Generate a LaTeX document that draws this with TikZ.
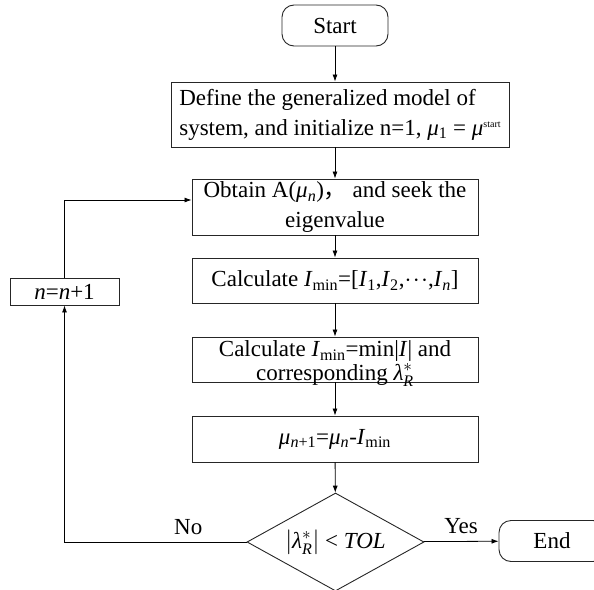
\documentclass[tikz,border=0pt]{standalone}
\usepackage{fontspec}
\setmainfont{Liberation Serif}
\newfontfamily\cjk{Noto Sans CJK SC}
\usetikzlibrary{shapes.geometric,arrows.meta}

\newcommand{\iv}[1]{\textit{#1}}

\begin{document}
\begin{tikzpicture}[x=1pt, y=-1pt, >={Latex[length=7pt,width=5pt]},
        font=\fontsize{23}{30}\selectfont,
        term/.style={draw=black!85, line width=0.9pt, rounded corners=12pt, minimum width=106, minimum height=41},
        proc/.style={draw=black!85, line width=0.9pt, align=center, inner sep=0pt},
        test/.style={draw=black!85, line width=0.9pt, diamond, aspect=1.8, inner sep=0pt},
        flow/.style={->, line width=0.8pt}]
        \useasboundingbox (0,0) rectangle (594,589);

        % Terminals
        \node[term] (start) at (335, 25.5) {Start};
        \node[term] (end) at (552, 541) {End};

        % Steps
        \node[proc, align=left, minimum width=338, minimum height=65] (define) at (340, 114.5)
            {Define the generalized model of\\system, and initialize n=1, \iv{μ}\textsubscript{1} = \iv{μ}{\fontsize{10}{10}\selectfont\raisebox{8pt}{start}}};
        \node[proc, minimum width=286, minimum height=56] (obtain) at (335, 207)
            {Obtain A(\iv{μ}\textsubscript{\iv{n}}){\cjk ，} and seek the\\eigenvalue};
        \node[proc, minimum width=286, minimum height=45] (calc1) at (335, 280.5)
            {Calculate \iv{I}\textsubscript{min}=[\iv{I}\textsubscript{1},\iv{I}\textsubscript{2},$\cdot\mkern-3mu\cdot\mkern-3mu\cdot$,\iv{I}\textsubscript{\iv{n}}]};
        \node[proc, minimum width=286, minimum height=45, inner ysep=-4pt, font=\fontsize{23}{24}\selectfont] (calc2) at (335, 359.5)
            {\rule{0pt}{23pt}Calculate \iv{I}\textsubscript{min}=min|\iv{I}| and\\corresponding \smash{\iv{λ}$^{*}_{\mathit{R}}$}};
        \node[proc, minimum width=286, minimum height=46] (update) at (335, 439)
            {\iv{μ}\textsubscript{\iv{n}+1}=\iv{μ}\textsubscript{\iv{n}}-\iv{I}\textsubscript{min}};

        % Decision
        \node[test, minimum width=177, minimum height=98] (check) at (335.5, 542)
            {$\bigg|$\iv{λ}$^{*}_{\mathit{R}}$$\bigg|$ < \iv{TOL}};

        % Counter
        \node[proc, minimum width=109, minimum height=27] (inc) at (64.5, 291.5) {\iv{n}=\iv{n}+1};

        % Connections
        \draw[flow] (start) -- (start |- define.north);
        \draw[flow] (define.south -| obtain) -- (obtain);
        \draw[flow] (obtain) -- (calc1);
        \draw[flow] (calc1) -- (calc2);
        \draw[flow] (calc2) -- (update);
        \draw[flow] (update) -- (check);
        \draw[flow] (check) -- (end) node[midway, above=4pt] {Yes};
        \draw[flow] (check) -| (inc) node[pos=0.16, above=4pt] {No};
        \draw[flow] (inc) |- ([yshift=7pt]obtain.west);
    \end{tikzpicture}
\end{document}
